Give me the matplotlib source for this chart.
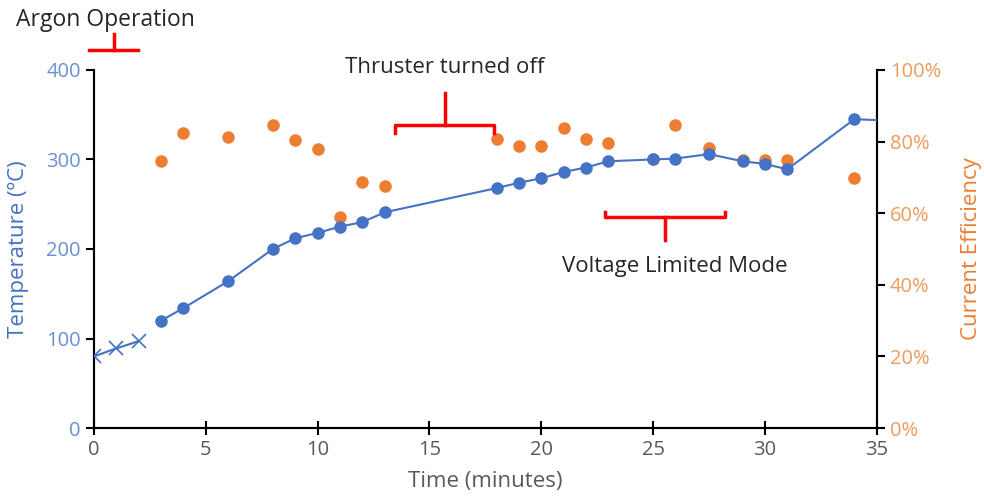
import matplotlib.pyplot as plt
from matplotlib.ticker import PercentFormatter

plt.rcParams['font.family'] = ['Open Sans', 'DejaVu Sans']

# argon startup (crosses)
argon_t = [0, 1, 2]
argon_temp = [80, 89, 97]

# main run
time_min = [3, 4, 6, 8, 9, 10, 11, 12, 13, 18, 19, 20, 21, 22, 23, 25, 26, 27.5, 29, 30, 31, 34]
temp_c = [120, 134, 164, 200, 212, 218, 225, 230, 241, 268, 274, 279, 286, 291, 298, 300, 301, 306,
          298, 295, 289, 345]
efficiency = [74.6, 82.4, 81.3, 84.6, 80.4, 77.9, 58.9, 68.7, 67.6, 80.7, 78.8, 78.8, 83.8, 80.7,
              79.6, 75.1, 84.6, 78.2, 74.9, 74.9, 74.9, 69.8]
# line runs on past the right edge
tail_t = [34, 36]
tail_temp = [345, 343]

blue = '#4472C4'
orange = '#ED7D31'
red = '#FF0000'

fig = plt.figure(figsize=(9.84, 4.96), dpi=100)
ax = fig.add_axes([0.0955, 0.137, 0.7955, 0.722])
ax2 = ax.twinx()

ax.plot(argon_t, argon_temp, color=blue, lw=1.5, marker='x', ms=10, mew=1.2, zorder=3)
ax.plot(time_min, temp_c, color=blue, lw=1.5, marker='o', ms=8, zorder=3)
ax.plot(tail_t, tail_temp, color=blue, lw=1.5, zorder=3)
ax2.plot(time_min, efficiency, ls='none', marker='o', ms=8, color=orange, zorder=2)

ax.set_xlim(0, 35)
ax.set_ylim(0, 400)
ax2.set_ylim(0, 100)
ax.set_xticks(range(0, 36, 5))
ax.set_yticks(range(0, 401, 100))
ax2.set_yticks(range(0, 101, 20))
ax2.yaxis.set_major_formatter(PercentFormatter(decimals=0))

for a in (ax, ax2):
    a.spines['top'].set_visible(False)
    for s in a.spines.values():
        s.set_linewidth(1.5)
ax.tick_params(axis='x', direction='inout', length=10, width=1.5, labelsize=14.5, labelcolor='#595959')
ax.tick_params(axis='y', direction='out', length=6, width=1.5, labelsize=14.5, labelcolor='#6A8FD4')
ax2.tick_params(axis='y', direction='out', length=6, width=1.5, labelsize=14.5, labelcolor='#F19A5F')

ax.set_xlabel('Time (minutes)', fontsize=16, color='#595959', labelpad=8)
ax.set_ylabel('Temperature (ºC)', fontsize=16, color=blue, labelpad=12)
ax2.set_ylabel('Current Efficiency', fontsize=16, color=orange, labelpad=14)
ax.set_zorder(ax2.get_zorder() + 1)
ax.patch.set_visible(False)


def bracket(x0, x1, y, stem, tip, up=True):
    d = 1 if up else -1
    xm = (x0 + x1) / 2
    ax.plot([x0, x0, x1, x1], [y - d * tip, y, y, y - d * tip], color=red, lw=2.5, clip_on=False)
    ax.plot([xm, xm], [y, y + d * stem], color=red, lw=2.5, clip_on=False)


bracket(-0.2, 1.95, 422, 18, 0)
ax.text(0.5, 456, 'Argon Operation', ha='center', va='center', fontsize=16.5,
        color='#262626', clip_on=False)
bracket(13.45, 17.9, 338, 36, 8)
ax.text(15.7, 403, 'Thruster turned off', ha='center', va='center', fontsize=16, color='#262626')
bracket(22.85, 28.2, 236, 26, 5, up=False)
ax.text(25.95, 181, 'Voltage Limited Mode', ha='center', va='center', fontsize=16, color='#262626')

fig.savefig('out.png', dpi=100)
